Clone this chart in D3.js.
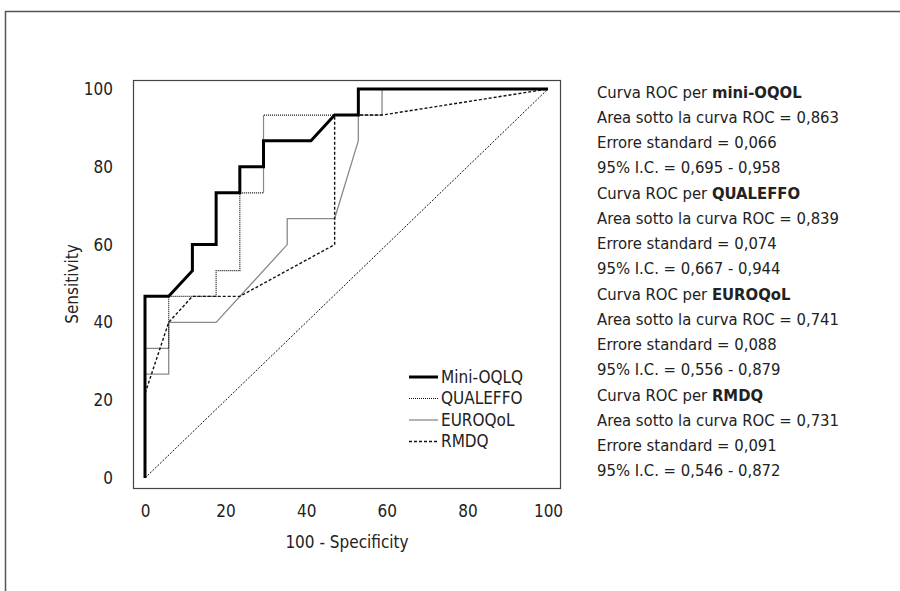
<!DOCTYPE html>
<html>
<head>
<meta charset="utf-8">
<script src="https://cdn.jsdelivr.net/npm/d3@7"></script>
<style>
  body { margin: 0; background: #fff; }
  svg { display: block; }
  text { font-family: "Liberation Sans Narrow", "DejaVu Sans Condensed", sans-serif; fill: #222; }
</style>
</head>
<body>
<svg id="chart" width="900" height="591"></svg>
<script>
// ROC curves, 100 - specificity (x) vs sensitivity (y)
const miniX = [0, 0, 5.88, 11.76, 11.76, 17.65, 17.65, 23.53, 23.53, 29.41, 29.41, 41.18, 47.06, 52.94, 52.94, 100]
const miniY = [0, 46.7, 46.7, 53.3, 60, 60, 73.3, 73.3, 80, 80, 86.7, 86.7, 93.3, 93.3, 100, 100]

const qualX = [0, 0, 5.88, 5.88, 17.65, 17.65, 23.53, 23.53, 29.41, 29.41, 52.94, 52.94, 100]
const qualY = [0, 33.3, 33.3, 46.7, 46.7, 53.3, 53.3, 73.3, 73.3, 93.3, 93.3, 100, 100]

const euroX = [0, 0, 5.88, 5.88, 17.65, 35.29, 35.29, 47.06, 52.94, 52.94, 58.82, 58.82, 100]
const euroY = [0, 26.7, 26.7, 40, 40, 60, 66.7, 66.7, 86.7, 93.3, 93.3, 100, 100]

const rmdqX = [0, 0, 5.88, 11.76, 23.53, 47.06, 47.06, 58.82, 100]
const rmdqY = [0, 21.7, 40, 46.7, 46.7, 60, 93.3, 93.3, 100]

const refX = [0, 100]
const refY = [0, 100]

const ticks = [0, 20, 40, 60, 80, 100]

const legendNames = ['Mini-OQLQ', 'QUALEFFO', 'EUROQoL', 'RMDQ']
const statNames = ['mini-OQOL', 'QUALEFFO', 'EUROQoL', 'RMDQ']
const aucs = ['0,863', '0,839', '0,741', '0,731']
const stdErrs = ['0,066', '0,074', '0,088', '0,091']
const cis = ['0,695 - 0,958', '0,667 - 0,944', '0,556 - 0,879', '0,546 - 0,872']

const styles = [
  { stroke: '#000', width: 3, dash: null },
  { stroke: '#111', width: 1.2, dash: '1,1' },
  { stroke: '#8a8a8a', width: 1.3, dash: null },
  { stroke: '#111', width: 1.4, dash: '3,2' }
]

const svg = d3.select('#chart')

// outer frame (clipped by the picture)
svg.append('path')
  .attr('d', 'M5.5 591 L5.5 11.5 L900 11.5')
  .attr('fill', 'none')
  .attr('stroke', '#555')
  .attr('stroke-width', 1.5)

const x = d3.scaleLinear().domain([0, 100]).range([145, 548])
const y = d3.scaleLinear().domain([0, 100]).range([478, 89])

// plot box
svg.append('rect')
  .attr('x', 133.5).attr('y', 80.5)
  .attr('width', 427).attr('height', 408)
  .attr('fill', 'none')
  .attr('stroke', '#444')
  .attr('stroke-width', 1.2)

const xAxis = svg.append('g')
  .attr('transform', 'translate(0,489)')
  .call(d3.axisBottom(x).tickValues(ticks).tickSize(0).tickPadding(16))
xAxis.select('.domain').remove()
xAxis.selectAll('text').style('font-size', '17px').attr('fill', '#222')

const yAxis = svg.append('g')
  .attr('transform', 'translate(133,0)')
  .call(d3.axisLeft(y).tickValues(ticks).tickSize(0).tickPadding(20))
yAxis.select('.domain').remove()
yAxis.selectAll('text').style('font-size', '17px').attr('fill', '#222')

svg.append('text')
  .attr('x', 347).attr('y', 548)
  .attr('text-anchor', 'middle')
  .style('font-size', '17px')
  .text('100 - Specificity')

svg.append('text')
  .attr('transform', 'translate(78,284) rotate(-90)')
  .attr('text-anchor', 'middle')
  .style('font-size', '17px')
  .text('Sensitivity')

const line = d3.line()
  .x((d) => x(d[0]))
  .y((d) => y(d[1]))

// reference diagonal
svg.append('path')
  .attr('d', line(d3.zip(refX, refY)))
  .attr('fill', 'none')
  .attr('stroke', '#111')
  .attr('stroke-width', 1)
  .attr('stroke-dasharray', '2,1.5')

const curves = [
  d3.zip(miniX, miniY),
  d3.zip(qualX, qualY),
  d3.zip(euroX, euroY),
  d3.zip(rmdqX, rmdqY)
]

// thin ones first, thick line last
const order = [2, 3, 1, 0]
for (let i of order) {
  svg.append('path')
    .attr('d', line(curves[i]))
    .attr('fill', 'none')
    .attr('stroke', styles[i].stroke)
    .attr('stroke-width', styles[i].width)
    .attr('stroke-dasharray', styles[i].dash)
}

// legend
const legend = svg.append('g')
legendNames.forEach((name, i) => {
  const ly = 377 + i * 21.5
  legend.append('line')
    .attr('x1', 409).attr('x2', 438)
    .attr('y1', ly).attr('y2', ly)
    .attr('stroke', styles[i].stroke)
    .attr('stroke-width', styles[i].width)
    .attr('stroke-dasharray', styles[i].dash)
  legend.append('text')
    .attr('x', 441).attr('y', ly)
    .attr('dy', '0.35em')
    .style('font-size', '17px')
    .text(name)
})

// stats block
const stats = svg.append('g')
statNames.forEach((name, i) => {
  const top = 92 + i * 101
  const t = stats.append('text')
    .attr('x', 597).attr('y', top).attr('dy', '0.35em')
    .style('font-size', '16.5px')
  t.append('tspan').text('Curva ROC per ')
  t.append('tspan').style('font-weight', 'bold').text(name)

  const rows = [
    `Area sotto la curva ROC = ${aucs[i]}`,
    `Errore standard = ${stdErrs[i]}`,
    `95% I.C. = ${cis[i]}`
  ]
  rows.forEach((r, j) => {
    stats.append('text')
      .attr('x', 597).attr('y', top + (j + 1) * 25).attr('dy', '0.35em')
      .style('font-size', '16.5px')
      .text(r)
  })
})
</script>
</body>
</html>
